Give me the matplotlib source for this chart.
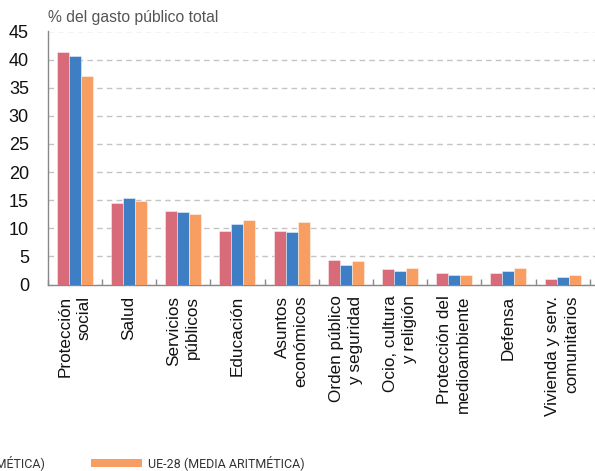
import numpy as np
import matplotlib
matplotlib.use("Agg")
import matplotlib.pyplot as plt
from matplotlib.patches import Rectangle

categorias = ["Protección\nsocial", "Salud", "Servicios\npúblicos", "Educación",
              "Asuntos\neconómicos", "Orden público\ny seguridad", "Ocio, cultura\ny religión",
              "Protección del\nmedioambiente", "Defensa", "Vivienda y serv.\ncomunitarios"]

espana = [41.3, 14.5, 13.0, 9.5, 9.5, 4.35, 2.8, 2.1, 2.05, 1.05]
uem = [40.7, 15.4, 12.9, 10.8, 9.3, 3.5, 2.4, 1.7, 2.4, 1.25]
ue28 = [37.0, 14.8, 12.5, 11.4, 11.2, 4.2, 3.0, 1.7, 3.0, 1.65]

series = [espana, uem, ue28]
nombres = ["ESPAÑA", "UEM (MEDIA ARITMÉTICA)", "UE-28 (MEDIA ARITMÉTICA)"]
colores = ["#D86B7A", "#3D7EC4", "#F89E62"]

plt.rcParams['font.family'] = ['Liberation Sans', 'DejaVu Sans']

W, H = 595, 471
fig = plt.figure(figsize=(W / 100, H / 100), dpi=100)
ax = fig.add_axes([47.7 / W, (H - 284.5) / H, 1 - 47.7 / W, (284.5 - 31.5) / H])

x = np.arange(len(categorias))
ancho = 0.222
for i, (vals, col) in enumerate(zip(series, colores)):
    ax.bar(x + (i - 1) * ancho, vals, ancho, color=col,
           edgecolor=(1, 1, 1, 0.5), linewidth=0.6, zorder=3)

ax.set_ylim(0, 45)
ax.set_xlim(-0.5, -0.5 + 547.3 / 54.2)
ax.set_yticks(range(0, 46, 5))
ax.yaxis.grid(True, linestyle=(0, (4, 3)), color="#C4C4C4", linewidth=1, zorder=0)
ax.tick_params(axis='y', length=0, pad=13.5, labelsize=13, labelcolor="#111111")

ax.set_xticks(x)
ax.set_xticklabels(categorias, rotation=90, ha='center', va='top',
                   multialignment='right', fontsize=12.3, color="#111111",
                   linespacing=1.35)
ax.tick_params(axis='x', which='major', length=0, pad=8)
ax.set_xticks(np.arange(len(categorias) + 1) - 0.5, minor=True)
ax.tick_params(axis='x', which='minor', direction='in', length=4, color="#888888", width=1)

for s in ['top', 'right']:
    ax.spines[s].set_visible(False)
for s in ['left', 'bottom']:
    ax.spines[s].set_color("#888888")
    ax.spines[s].set_linewidth(1)

fig.text(48 / W, (H - 22) / H, "% del gasto público total", fontsize=11.3,
         color="#555555", ha='left', va='baseline')

# leyenda horizontal bajo el gráfico; las primeras entradas quedan fuera por la izquierda
leg_y = H - 463
fin_texto = [-170, 45, 305]
for nombre, col, fx in zip(nombres, colores, fin_texto):
    t = fig.text(fx / W, leg_y / H, nombre, fontsize=9, color="#333333",
                 family=['Roboto', 'DejaVu Sans'], va='center', ha='right')
    fig.canvas.draw()
    bb = t.get_window_extent()
    x0 = bb.x0 - 57
    fig.add_artist(Rectangle((x0 / W, (leg_y - 4) / H), 51 / W, 8 / H,
                             transform=fig.transFigure, color=col, lw=0))

fig.savefig("out.png", dpi=100)
